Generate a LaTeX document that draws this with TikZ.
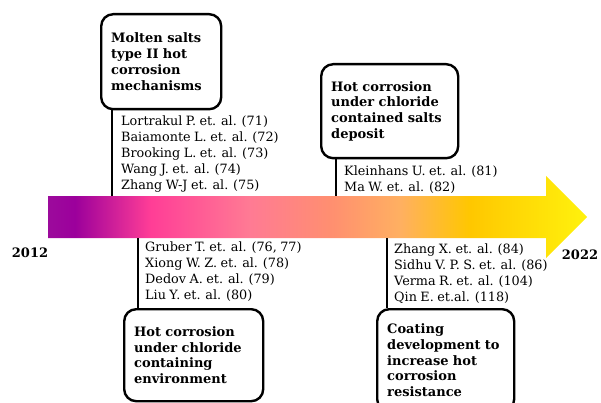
\documentclass[tikz,border=0pt]{standalone}
\usepackage{fontspec}
\setmainfont[WordSpace=0.85]{DejaVu Serif}
\usetikzlibrary{positioning}

\pgfdeclarehorizontalshading{timeline}{100bp}{
  rgb(0bp)=(0.61,0.04,0.61);
  rgb(25bp)=(0.61,0.04,0.61);
  rgb(27.5bp)=(0.61,0,0.61);
  rgb(34.5bp)=(1,0.24,0.59);
  rgb(43.7bp)=(1,0.48,0.58);
  rgb(51.2bp)=(1,0.56,0.44);
  rgb(57.7bp)=(1,0.69,0.38);
  rgb(64.1bp)=(1,0.78,0);
  rgb(75bp)=(1,0.95,0.05);
  rgb(100bp)=(1,0.95,0.05)}

\tikzset{
  topic/.style={draw, line width=2.4pt, rounded corners=12pt, anchor=north west,
    inner xsep=10pt, align=left, font=\fontsize{13}{15.7}\selectfont\bfseries},
  refs/.style={anchor=north west, align=left, inner sep=0pt,
    font=\fontsize{12.8}{15.8}\selectfont},
  stem/.style={line width=2pt},
  year/.style={font=\fontsize{13}{15}\selectfont\bfseries}
}

\begin{document}
\begin{tikzpicture}[x=1pt, y=-1pt]
      \clip (0, 0) rectangle (601, 403);

      % timeline arrow
      \shade [shading=timeline] (48, 196) -- (546, 196) -- (546, 176) -- (587, 217)
        -- (546, 258) -- (546, 238) -- (48, 238) -- cycle;
      \node [year] (start) at (30, 253) {2012};
      \node [year] (end) at (580, 255) {2022};

      % above the arrow
      \node [topic, minimum width=120pt, minimum height=95pt, text width=100pt] (molten) at (100, 13)
        {Molten salts\\type II hot\\corrosion\\mechanisms};
      \coordinate (t1) at (112, 196);
      \draw [stem] (molten.south -| t1) -- (t1);
      \node [refs] (molrefs) at (121, 116)
        {Lortrakul P. et. al. (71)\\Baiamonte L. et. al. (72)\\Brooking L. et. al. (73)\\Wang J. et. al. (74)\\Zhang W-J et. al. (75)};

      \node [topic, minimum width=137pt, minimum height=94pt, text width=117pt] (deposit) at (320, 63)
        {Hot corrosion\\under chloride\\contained salts\\deposit};
      \coordinate (t2) at (336, 196);
      \draw [stem] (deposit.south -| t2) -- (t2);
      \node [refs] (deprefs) at (344, 166)
        {Kleinhans U. et. al. (81)\\Ma W. et. al. (82)};

      % below the arrow
      \node [topic, minimum width=139pt, minimum height=92pt, text width=119pt] (chloride) at (123, 308)
        {Hot corrosion\\under chloride\\containing\\environment};
      \coordinate (b1) at (138, 238);
      \draw [stem] (b1) -- (chloride.north -| b1);
      \node [refs] (chlrefs) at (145, 242)
        {Gruber T. et. al. (76, 77)\\Xiong W. Z. et. al. (78)\\Dedov A. et. al. (79)\\Liu Y. et. al. (80)};

      \node [topic, minimum width=137pt, minimum height=102pt, text width=117pt] (coating) at (376, 308)
        {Coating\\development to\\increase hot\\corrosion\\resistance};
      \coordinate (b2) at (387, 238);
      \draw [stem] (b2) -- (coating.north -| b2);
      \node [refs] (coarefs) at (394, 244)
        {Zhang X. et. al. (84)\\Sidhu V. P. S. et. al. (86)\\Verma R. et. al. (104)\\Qin E. et.al. (118)};
    \end{tikzpicture}
\end{document}
